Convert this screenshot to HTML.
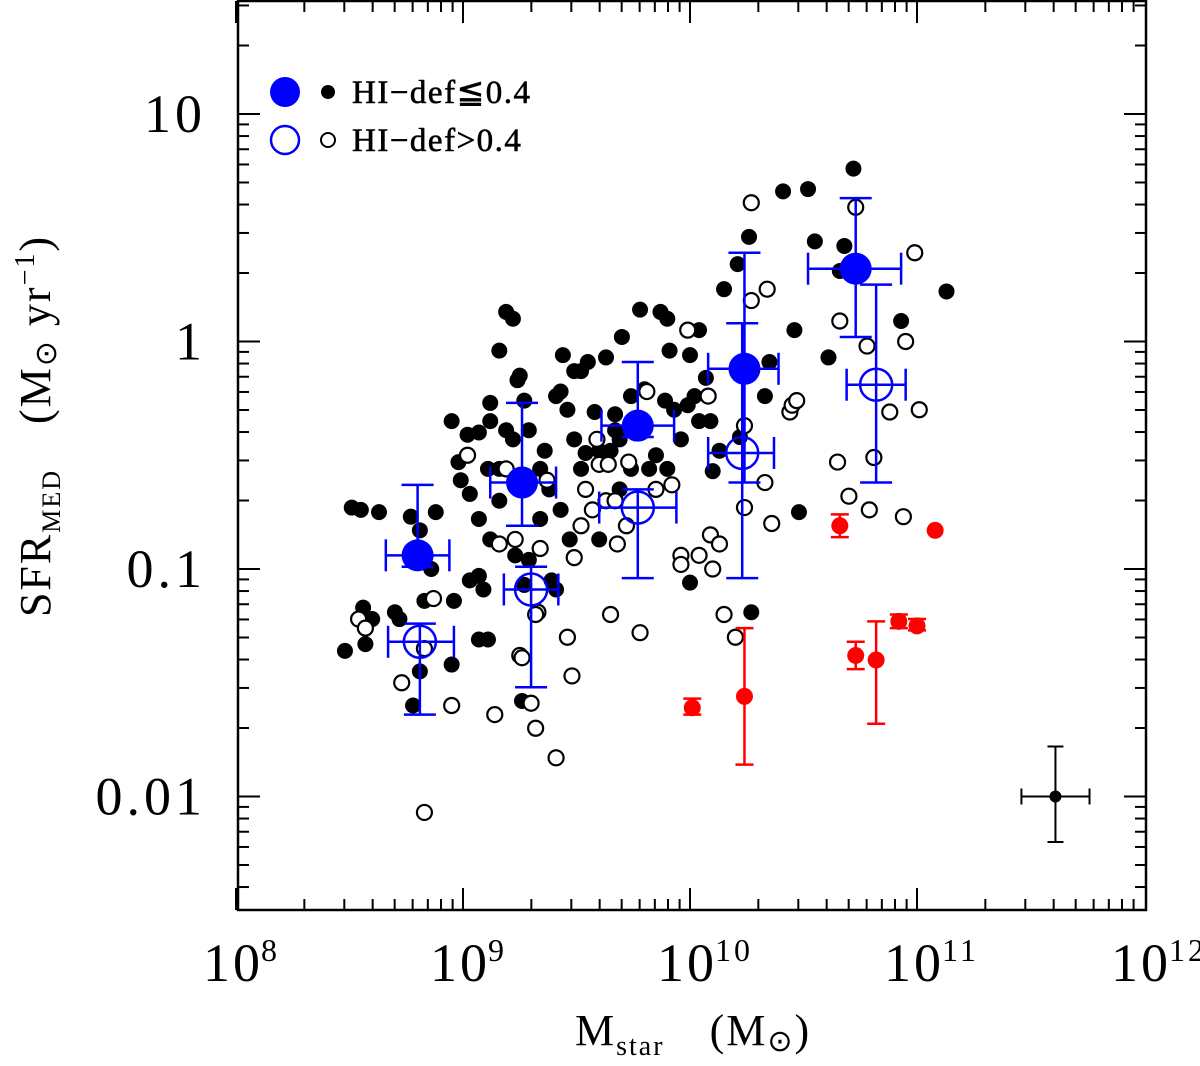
<!DOCTYPE html>
<html><head><meta charset="utf-8"><style>
body{margin:0;background:#fff}
svg{display:block;font-family:"Liberation Serif",serif}
</style></head><body>
<svg id="c" width="1200" height="1066" viewBox="0 0 1200 1066" xmlns="http://www.w3.org/2000/svg">
<g id="marks"></g>
<rect x="238" y="1" width="908" height="909" fill="none" stroke="#000" stroke-width="2.5"/>
<g id="axes"></g>
<g>
<circle cx="285" cy="92" r="15" fill="#0000ff"/>
<circle cx="328" cy="92" r="7" fill="#000"/>
<text x="352" y="103" font-size="33" letter-spacing="1.5" stroke="#000" stroke-width="0.6">HI−def≦0.4</text>
<circle cx="285" cy="140" r="14" fill="none" stroke="#0000ff" stroke-width="2.5"/>
<circle cx="328" cy="140" r="7" fill="none" stroke="#000" stroke-width="2"/>
<text x="352" y="151" font-size="33" letter-spacing="1.5" stroke="#000" stroke-width="0.6">HI−def&gt;0.4</text>
</g>
<text x="575" y="1045" font-size="44" letter-spacing="2">M<tspan font-size="28" dy="10">star</tspan><tspan dy="-10" dx="45">(M</tspan><tspan font-size="30" dy="6">⊙</tspan><tspan dy="-6">)</tspan></text>
<text transform="translate(50,426) rotate(-90)" text-anchor="middle" font-size="44" letter-spacing="2">SFR<tspan font-size="26" dy="10">MED</tspan><tspan dy="-10" dx="45">(M</tspan><tspan font-size="30" dy="6">⊙</tspan><tspan dy="-6"> yr</tspan><tspan font-size="28" dy="-16">−1</tspan><tspan dy="16">)</tspan></text>
</svg>
<script>
const NS="http://www.w3.org/2000/svg";
// data (log10 values)
const filledLogM=[8.48,8.51,8.55,8.56,8.58,8.63,8.60,8.70,8.72,8.77,8.78,8.81,8.83,8.86,8.88,8.95,8.95,8.98,9.02,9.03,9.07,9.07,9.07,9.12,9.07,9.12,9.11,9.16,9.16,9.19,9.22,9.24,9.22,9.26,9.27,9.29,9.34,9.36,9.38,9.39,9.41,9.44,9.43,9.46,9.49,9.49,9.52,9.52,9.55,9.58,9.60,9.63,9.65,9.67,9.67,9.70,9.74,9.78,9.80,9.87,9.90,9.89,9.91,9.93,9.96,9.99,10.00,10.02,10.04,10.07,10.10,10.13,10.15,10.21,10.22,10.26,10.27,10.33,10.35,10.41,10.52,10.46,10.48,10.55,10.66,10.61,10.68,10.72,10.93,11.13,10.00,9.54,9.60,9.69,9.74,9.82,10.04,10.09,9.25,9.16,9.12,9.03,9.09,9.11,8.57,8.81,9.27,9.29,9.23,8.99,9.19,9.34,9.43,9.47,9.69,9.85,9.90,9.41,8.96];
const filledLogSFR=[-1.36,-0.73,-0.74,-1.17,-1.22,-0.75,-1.22,-1.19,-1.22,-0.77,-1.60,-0.83,-1.14,-1.00,-0.75,-0.35,-1.42,-0.53,-0.41,-0.67,-0.40,-1.03,-0.78,-0.27,-1.31,-0.35,-0.56,-0.56,-0.04,0.13,0.10,-0.17,-0.43,-1.58,-0.26,-0.39,-0.56,-0.48,-0.65,-1.05,-0.24,-0.06,-0.22,-0.30,-0.13,-0.43,-0.56,-0.13,-0.09,-0.31,-0.48,-0.07,-0.48,-0.32,-0.39,0.02,-0.24,0.14,-0.21,0.13,0.10,-0.26,-0.04,-0.30,-0.43,-0.28,-0.06,-0.24,0.05,-0.16,-0.57,-0.48,0.23,0.34,-0.42,0.46,-1.19,-0.24,-0.09,0.66,0.67,0.05,-0.75,0.44,0.31,-0.07,0.42,0.76,0.09,0.22,-1.06,-0.49,-0.87,-0.65,-0.56,-0.56,-0.35,-0.35,-0.15,-0.70,-0.87,-1.05,-1.09,-1.31,-1.33,-1.45,-1.07,-0.96,-0.94,-0.61,-0.39,-0.78,-0.74,-0.87,-0.43,-0.50,-0.56,-1.09,-1.14];
const openLogM=[8.54,8.57,8.73,8.83,8.87,8.95,9.02,9.14,9.16,9.19,9.23,9.25,9.26,9.30,9.32,9.33,9.37,9.41,9.46,9.48,9.52,9.54,9.57,9.60,9.63,9.65,9.68,9.72,9.78,9.81,9.85,9.92,9.96,9.99,9.96,10.04,10.08,10.09,10.10,10.13,10.15,10.20,10.24,10.24,10.27,10.27,10.33,10.34,10.36,10.44,10.45,10.47,10.65,10.66,10.70,10.73,10.78,10.79,10.81,10.88,10.94,10.99,10.95,11.01,8.83,9.59,9.64,9.73,9.67,9.49,9.34,9.32];
const openLogSFR=[-1.22,-1.26,-1.50,-1.35,-1.13,-1.60,-0.50,-1.64,-0.89,-0.56,-0.87,-1.38,-1.39,-1.59,-1.70,-1.19,-0.61,-1.83,-1.30,-1.47,-0.81,-0.65,-0.74,-0.54,-0.70,-1.20,-0.89,-0.81,-1.28,-0.22,-0.65,-0.63,-0.94,0.05,-0.98,-0.94,-0.24,-0.85,-1.00,-0.89,-1.20,-1.30,-0.73,-0.37,0.61,0.18,-0.62,0.23,-0.80,-0.31,-0.28,-0.26,-0.53,0.09,-0.68,0.59,-0.02,-0.74,-0.51,-0.31,-0.77,0.39,0.00,-0.30,-2.07,-0.43,-0.54,-0.53,-0.70,-0.95,-0.91,-1.20];
const medFilledLogM=[8.80,9.26,9.77,10.24,10.73];
const medFilledLogSFR=[-0.94,-0.62,-0.37,-0.12,0.32];
const medFilledXlo=[8.66,9.12,9.61,10.08,10.52];
const medFilledXhi=[8.94,9.41,9.93,10.39,10.93];
const medFilledYtop=[-0.63,-0.27,-0.09,0.39,0.63];
const medFilledYbot=[-0.99,-0.81,-0.42,-0.62,0.02];
const medOpenLogM=[8.81,9.30,9.77,10.23,10.82];
const medOpenLogSFR=[-1.32,-1.09,-0.73,-0.49,-0.19];
const medOpenXlo=[8.67,9.18,9.60,10.08,10.69];
const medOpenXhi=[8.96,9.42,9.94,10.37,10.95];
const medOpenYtop=[-1.24,-0.99,-0.65,0.08,0.25];
const medOpenYbot=[-1.64,-1.52,-1.04,-1.04,-0.62];
const redLogM=[10.01,10.24,10.66,10.73,10.82,10.92,11.00,11.08];
const redLogSFR=[-1.61,-1.56,-0.81,-1.38,-1.40,-1.23,-1.25,-0.83];
const redYtop=[-1.57,-1.26,-0.76,-1.32,-1.23,-1.20,-1.22,-0.83];
const redYbot=[-1.64,-1.86,-0.86,-1.44,-1.68,-1.26,-1.27,-0.83];
const sampleErr=[11.61,-2.00,11.46,11.76,-1.78,-2.20];
const xTickExp=[8,9,10,11,12];
const yTickVals=[-2,-1,0,1];
const yTickLabels=["0.01","0.1","1","10"];

const X=v=>236+(v-8)*227;
const Y=v=>341.5-v*227.5;
const marks=document.getElementById('marks');
const axes=document.getElementById('axes');
function mk(tag,attrs,parent){const e=document.createElementNS(NS,tag);for(const k in attrs)e.setAttribute(k,attrs[k]);parent.appendChild(e);return e;}

filledLogM.forEach((m,i)=>{
  const e=mk('circle',{cx:X(m),cy:Y(filledLogSFR[i]),r:8,fill:'#000'},marks);
  
  
});
openLogM.forEach((m,i)=>{
  const e=mk('circle',{cx:X(m),cy:Y(openLogSFR[i]),r:7.5,fill:'#fff',stroke:'#000','stroke-width':2.2},marks);
  
  
});
function errbar(m,s,xlo,xhi,yt,yb,col,cap,w,name){
  const g=mk('g',{stroke:col,'stroke-width':w,fill:'none'},marks);
  
  
  const cx=X(m),cy=Y(s);
  if(yt!==yb){
    mk('line',{x1:cx,x2:cx,y1:Y(yt),y2:Y(yb)},g);
    mk('line',{x1:cx-cap,x2:cx+cap,y1:Y(yt),y2:Y(yt)},g);
    mk('line',{x1:cx-cap,x2:cx+cap,y1:Y(yb),y2:Y(yb)},g);
  }
  if(xlo!==null){
    mk('line',{x1:X(xlo),x2:X(xhi),y1:cy,y2:cy},g);
    mk('line',{x1:X(xlo),x2:X(xlo),y1:cy-cap,y2:cy+cap},g);
    mk('line',{x1:X(xhi),x2:X(xhi),y1:cy-cap,y2:cy+cap},g);
  }
}
redLogM.forEach((m,i)=>{
  errbar(m,redLogSFR[i],null,null,redYtop[i],redYbot[i],'#ff0000',9,2.5,'red-errorbar');
  const e=mk('circle',{cx:X(m),cy:Y(redLogSFR[i]),r:8.5,fill:'#ff0000'},marks);
  
  
});
medOpenLogM.forEach((m,i)=>{
  errbar(m,medOpenLogSFR[i],medOpenXlo[i],medOpenXhi[i],medOpenYtop[i],medOpenYbot[i],'#0000ff',16,2.5,'median-high-def-errorbar');
  const e=mk('circle',{cx:X(m),cy:Y(medOpenLogSFR[i]),r:16,fill:'none',stroke:'#0000ff','stroke-width':2.5},marks);
  
  
});
medFilledLogM.forEach((m,i)=>{
  errbar(m,medFilledLogSFR[i],medFilledXlo[i],medFilledXhi[i],medFilledYtop[i],medFilledYbot[i],'#0000ff',16,2.5,'median-low-def-errorbar');
  const e=mk('circle',{cx:X(m),cy:Y(medFilledLogSFR[i]),r:16,fill:'#0000ff'},marks);
  
  
});
errbar(sampleErr[0],sampleErr[1],sampleErr[2],sampleErr[3],sampleErr[4],sampleErr[5],'#000',8,2,'typical-error-bar');
{const e=mk('circle',{cx:X(sampleErr[0]),cy:Y(sampleErr[1]),r:6,fill:'#000'},marks);

}

const tg=mk('g',{stroke:'#000','stroke-width':2},axes);
for(let d=8;d<12;d++){for(let k=1;k<=9;k++){const v=d+Math.log10(k);const x=X(v);const L=k===1?22:11;
  mk('line',{x1:x,x2:x,y1:910,y2:910-L},tg);mk('line',{x1:x,x2:x,y1:1,y2:1+L},tg);}}
for(let d=-3;d<2;d++){for(let k=1;k<=9;k++){const v=d+Math.log10(k);const y=Y(v);if(y<1||y>910)continue;const L=k===1?22:11;
  mk('line',{x1:238,x2:238+L,y1:y,y2:y},tg);mk('line',{x1:1146,x2:1146-L,y1:y,y2:y},tg);}}
xTickExp.forEach(p=>{
  const t=mk('text',{x:X(p)-33,y:981,'font-size':54,'letter-spacing':3},axes);
  
  
  t.textContent='10';
  const s=mk('tspan',{'font-size':32,dy:-20,dx:-2},t);s.textContent=String(p);
});
yTickVals.forEach((v,i)=>{
  const t=mk('text',{x:206,y:Y(v)+18,'font-size':54,'letter-spacing':4,'text-anchor':'end'},axes);
  
  
  t.textContent=yTickLabels[i];
});
</script>
</body></html>
